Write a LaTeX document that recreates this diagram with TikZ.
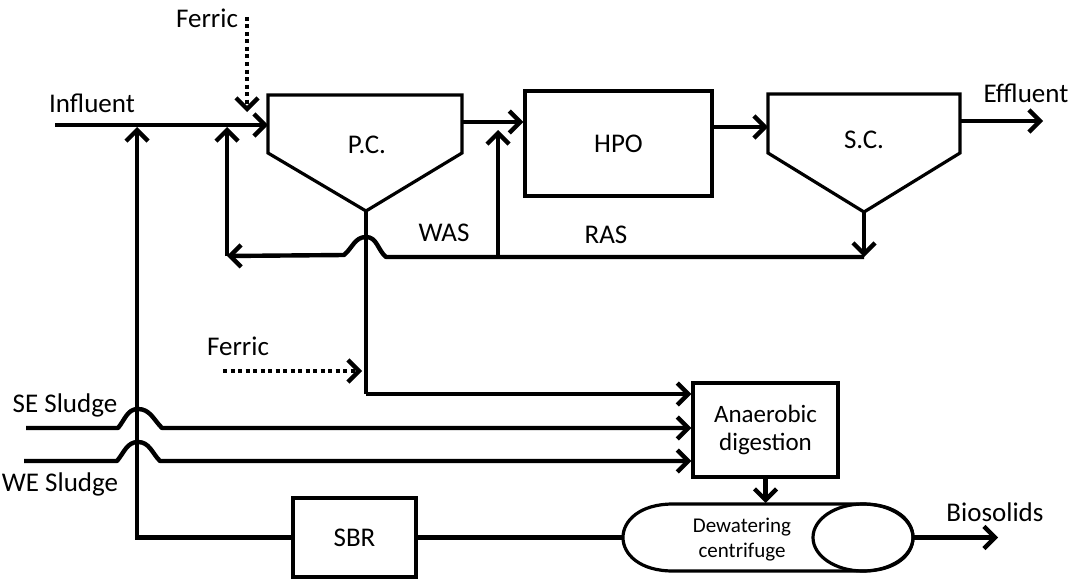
\documentclass[tikz,border=0pt]{standalone}
\usepackage{fontspec}
\setmainfont{Carlito}
\usetikzlibrary{arrows.meta,shapes.geometric}
\begin{document}
\begin{tikzpicture}[x=1pt,y=-1pt,
  flow/.style={line width=4.4pt, -{Straight Barb[length=11pt,width=22pt]}},
  pipe/.style={line width=4.4pt},
  dots/.style={line width=4.4pt, dash pattern=on 4pt off 3.5pt, -{Straight Barb[length=11pt,width=22pt]}},
  unit/.style={draw, line width=3.2pt, inner sep=0pt, align=center, font=\fontsize{27}{28}\selectfont},
  lbl/.style={font=\fontsize{27}{32}\selectfont, inner sep=0pt},
  outline/.style={line width=3.2pt, line join=miter},
  ]
\useasboundingbox (0,0) rectangle (1070,578);

% --- clarifiers ---
\draw[outline] (268,95) -- (462,95) -- (462,153) -- (366,211) -- (268,153) -- cycle;
\coordinate (pcin) at (268,125);
\coordinate (pcout) at (462,122);
\coordinate (pcbot) at (366,211);
\node[lbl] (pc) at (367,145) {P.C.};

\draw[outline] (768,94) -- (960,94) -- (960,153) -- (864,212) -- (768,153) -- cycle;
\coordinate (scin) at (768,127);
\coordinate (scout) at (960,121);
\coordinate (scbot) at (864,212);
\node[lbl] (sc) at (864,140) {S.C.};

% --- boxes ---
\node[unit, minimum width=187pt, minimum height=105pt] (hpo) at (618.5,143.5) {HPO};
\node[unit, minimum width=145pt, minimum height=94pt, font=\fontsize{25}{28}\selectfont] (ad) at (765.5,430) {Anaerobic\\digestion};
\node[unit, minimum width=123pt, minimum height=79pt] (sbr) at (354.5,537.5) {SBR};

% --- dewatering centrifuge ---
\draw[outline, line join=round] (673,504) -- (863,504) .. controls (929.7,504) and (929.7,571) .. (863,571)
   -- (673,571) .. controls (606.3,571) and (606.3,504) .. (673,504) -- cycle;
\node[draw, ellipse, line width=3.2pt, minimum width=100pt, minimum height=67pt, inner sep=0pt] (dwe) at (863,537.5) {};
\node[align=center, inner sep=0pt, font=\fontsize{21}{25}\selectfont] (dwt) at (742,540) {Dewatering\\centrifuge};
\coordinate (dwW) at (624,537.5);
\coordinate (dwE) at (913,537.5);
\coordinate (dwN) at (767,503);

% --- labels ---
\node[lbl] (influent) at (92,103) {Influent};
\node[lbl] (effluent) at (1026,93) {Effluent};
\node[lbl] (ferric1) at (207,18) {Ferric};
\node[lbl] (ferric2) at (238,346) {Ferric};
\node[lbl] (was) at (444,233) {WAS};
\node[lbl] (ras) at (606,235) {RAS};
\node[lbl] (se) at (65,405) {SE Sludge};
\node[lbl] (we) at (60,484) {WE Sludge};
\node[lbl] (bio) at (995,512) {Biosolids};

% --- coordinates ---
\coordinate (infstart) at (55,125);
\coordinate (effend) at (1043,121);
\coordinate (j1) at (137,127);
\coordinate (j2) at (227,127);
\coordinate (j3) at (498,130);
\coordinate (sbrjoin) at (137,537.5);
\coordinate (rasbot) at (864,257);
\coordinate (wasbot) at (498,257);
\coordinate (retend) at (227,256);
\coordinate (pcturn) at (366,394);
\coordinate (adin1) at (ad.west |- 0,394);
\coordinate (adin2) at (ad.west |- 0,428);
\coordinate (adin3) at (ad.west |- 0,461);
\coordinate (sestart) at (26,428);
\coordinate (westart) at (24,461);
\coordinate (bioend) at (998,537.5);
\coordinate (f1s) at (247,17);
\coordinate (f1e) at (247,112);
\coordinate (f2s) at (223,371);
\coordinate (f2e) at (362,371);

% --- main line ---
\draw[flow] (infstart) -- (pcin);
\draw[flow] (pcout) -- (hpo.west |- pcout);
\draw[flow] (hpo.east |- scin) -- (scin);
\draw[flow] (scout) -- (effend);

% --- return sludge ---
\draw[flow] (scbot) -- (rasbot);
\draw[flow, line join=round] (rasbot) -- (386,257) to[out=140,in=0] (366,237) to[out=180,in=40] (344,255) -- (retend);
\draw[flow] (retend) -- (j2);
\draw[flow] (wasbot) -- (j3);

% --- primary sludge ---
\draw[pipe] (pcbot) -- (pcturn);
\draw[flow] (pcturn) -- (adin1);

% --- SE / WE sludge ---
\draw[flow, line join=round] (sestart) -- (118,428) to[out=50,in=180] (138,409) to[out=0,in=135] (162,428) -- (adin2);
\draw[flow, line join=round] (westart) -- (117,461) to[out=50,in=180] (138,442) to[out=0,in=135] (160,461) -- (adin3);

% --- SBR return ---
\draw[flow] (sbr.west) -- (sbrjoin) -- (j1);
\draw[pipe] (sbr.east) -- (dwW);

% --- digestion / dewatering ---
\draw[flow] (ad.south) -- (ad.south |- dwN);
\draw[flow] (dwE) -- (bioend);

% --- ferric ---
\draw[dots] (f1s) -- (f1e);
\draw[dots] (f2s) -- (f2e);
\end{tikzpicture}
\end{document}
